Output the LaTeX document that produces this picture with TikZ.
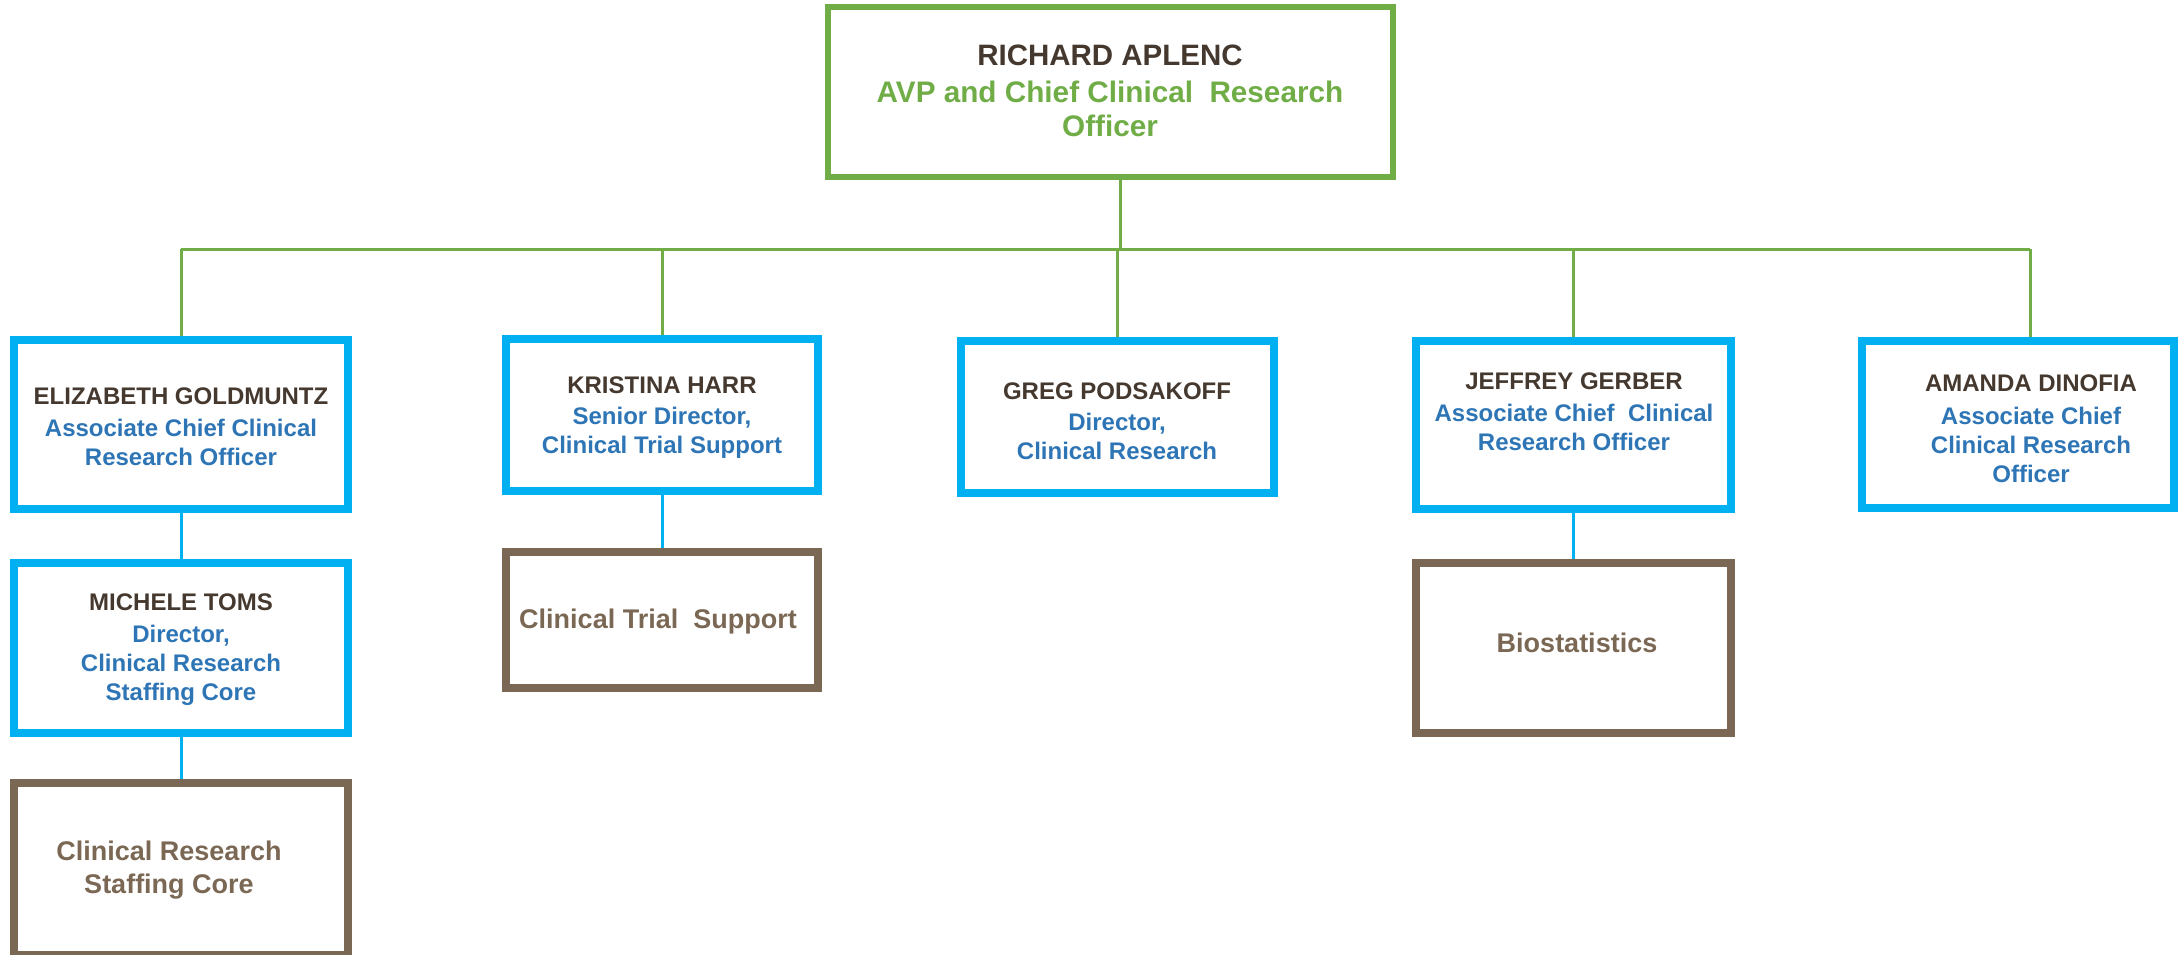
\documentclass[tikz,border=0pt]{standalone}
\usepackage{fontspec}
\setmainfont{Liberation Sans}
\definecolor{grn}{HTML}{70AD47}
\definecolor{cyanb}{HTML}{00B0F0}
\definecolor{bluet}{HTML}{2E75B6}
\definecolor{namec}{HTML}{45392F}
\definecolor{brn}{HTML}{7B6854}
\begin{document}
\begin{tikzpicture}[x=1pt,y=-1pt,
  topbox/.style={draw=grn,line width=6pt,rectangle,inner sep=0pt},
  bluebox/.style={draw=cyanb,line width=8pt,rectangle,inner sep=0pt},
  brownbox/.style={draw=brn,line width=8pt,rectangle,inner sep=0pt},
  toplbl/.style={align=center,inner sep=0pt,font=\bfseries\fontsize{29.7}{34}\selectfont,text=grn},
  lbl/.style={align=center,inner sep=0pt,font=\bfseries\fontsize{24}{29}\selectfont,text=bluet},
  unitlbl/.style={align=center,inner sep=0pt,font=\bfseries\fontsize{27}{33}\selectfont,text=brn},
  gline/.style={draw=grn,line width=3pt},
  bline/.style={draw=cyanb,line width=3pt}]
\useasboundingbox (0,0) rectangle (2182,954);

% boxes
\node[topbox,minimum width=565pt,minimum height=170pt] (top) at (1110.5,92) {};
\node[bluebox,minimum width=334pt,minimum height=169pt] (eliz) at (181,424.5) {};
\node[bluebox,minimum width=312pt,minimum height=152pt] (kris) at (662,415) {};
\node[bluebox,minimum width=313pt,minimum height=152pt] (greg) at (1117.5,417) {};
\node[bluebox,minimum width=315pt,minimum height=168pt] (jeff) at (1573.5,425) {};
\node[bluebox,minimum width=312pt,minimum height=167pt] (amanda) at (2018,424.5) {};
\node[bluebox,minimum width=334pt,minimum height=170pt] (michele) at (181,648) {};
\node[brownbox,minimum width=334pt,minimum height=172pt] (crsc) at (181,869) {};
\node[brownbox,minimum width=312pt,minimum height=136pt] (cts) at (662,620) {};
\node[brownbox,minimum width=315pt,minimum height=170pt] (bio) at (1573.5,648) {};

% labels
\node[toplbl] (topT) at (1110,91) {\textcolor{namec}{\fontsize{29.5}{37}\selectfont RICHARD APLENC}\\[3pt]AVP and Chief Clinical\ \ Research\\Officer};
\node[lbl] (elizT) at (181,427) {\textcolor{namec}{ELIZABETH GOLDMUNTZ}\\[3pt]Associate Chief Clinical\\Research Officer};
\node[lbl] (krisT) at (662,418) {\textcolor{namec}{KRISTINA HARR}\\[2pt]Senior Director,\\Clinical Trial Support};
\node[lbl] (gregT) at (1117,421) {\textcolor{namec}{GREG PODSAKOFF}\\[2pt]Director,\\Clinical Research};
\node[lbl] (jeffT) at (1574,412) {\textcolor{namec}{JEFFREY GERBER}\\[3pt]Associate Chief\ \ Clinical\\Research Officer};
\node[lbl] (amandaT) at (2031,429) {\textcolor{namec}{AMANDA DINOFIA}\\[4pt]Associate Chief\\Clinical Research\\Officer};
\node[lbl] (micheleT) at (181,650) {\textcolor{namec}{MICHELE TOMS}\\[3pt]Director,\\Clinical Research\\Staffing Core};
\node[unitlbl] (crscT) at (169,870) {Clinical Research\\Staffing Core};
\node[unitlbl] (ctsT) at (658,622) {Clinical Trial\ \ Support};
\node[unitlbl] (bioT) at (1577,643) {Biostatistics};

% connectors
\coordinate (busL) at (181,249);
\coordinate (busR) at (2030,249);
\coordinate (topdrop) at (1120,249);
\draw[gline] (busL) -- (busR);
\draw[gline] (topdrop) -- (topdrop |- top.south);
\draw[gline] (eliz.north) -- (eliz.north |- busL);
\draw[gline] (kris.north) -- (kris.north |- busL);
\draw[gline] (greg.north) -- (greg.north |- busL);
\draw[gline] (jeff.north) -- (jeff.north |- busL);
\draw[gline] (busR) -- (busR |- amanda.north);
\draw[bline] (eliz.south) -- (michele.north);
\draw[bline] (michele.south) -- (crsc.north);
\draw[bline] (kris.south) -- (cts.north);
\draw[bline] (jeff.south) -- (bio.north);
\end{tikzpicture}
\end{document}
